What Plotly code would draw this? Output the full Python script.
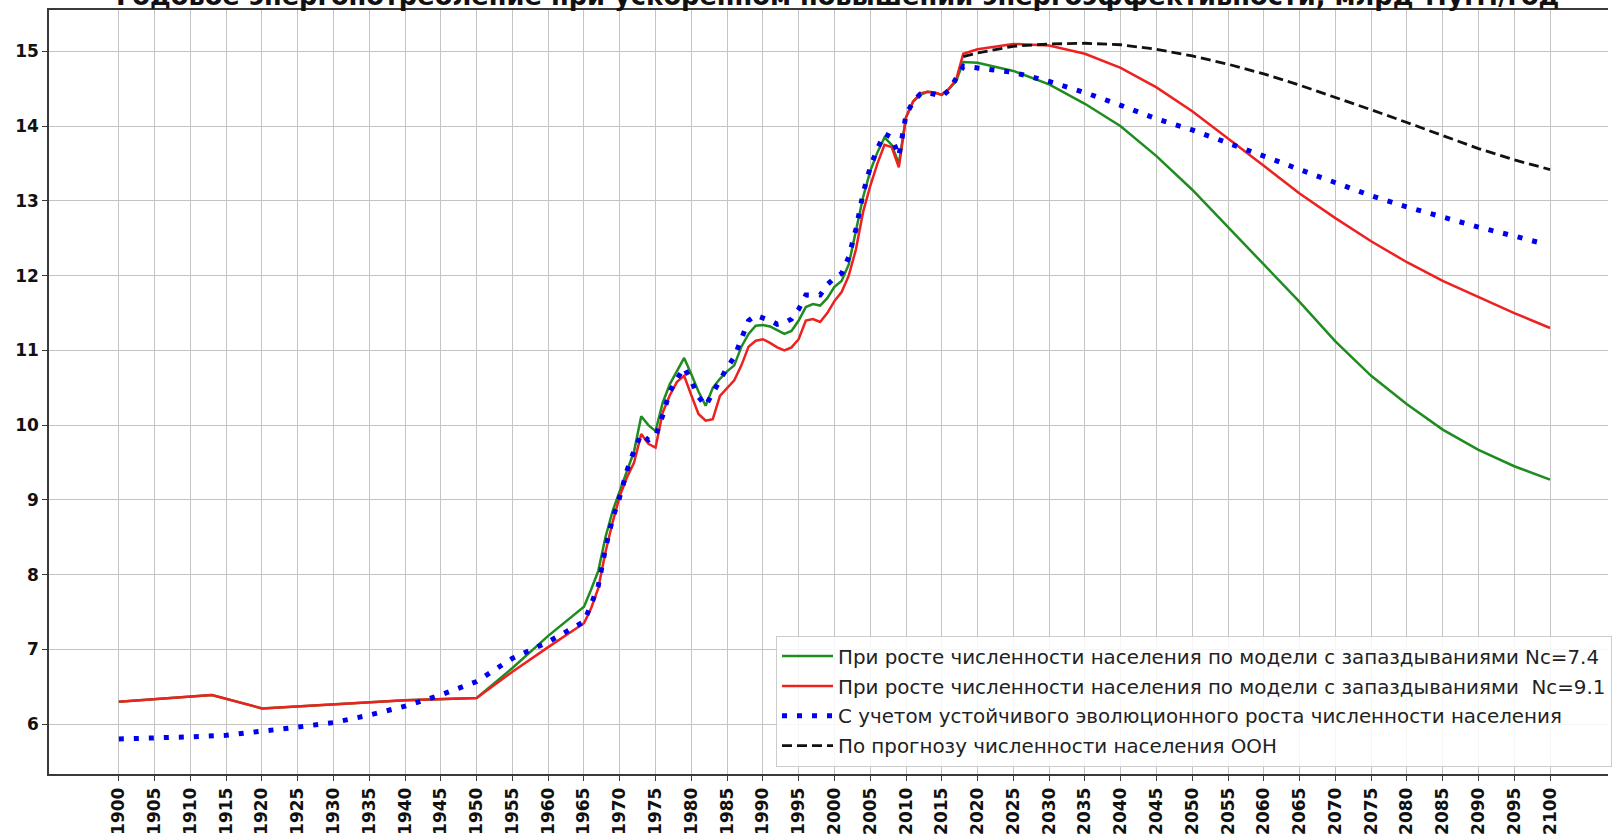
import plotly.graph_objects as go

# ---------------- data ----------------
title_text = "Годовое энергопотребление при ускоренном повышении энергоэффективности, млрд т.у.т./год"

name_green = "При росте численности населения по модели с запаздываниями Nc=7.4"
name_red = "При росте численности населения по модели с запаздываниями  Nc=9.1"
name_blue = "С учетом устойчивого эволюционного роста численности населения"
name_black = "По прогнозу численности населения ООН"

years_model = [1900, 1913, 1920, 1930, 1940, 1950, 1955, 1960, 1965, 1966, 1967, 1968, 1969,
               1970, 1971, 1972, 1973, 1974, 1975, 1976, 1977, 1978, 1979, 1980, 1981, 1982,
               1983, 1984, 1985, 1986, 1987, 1988, 1989, 1990, 1991, 1992, 1993, 1994, 1995,
               1996, 1997, 1998, 1999, 2000, 2001, 2002, 2003, 2004, 2005, 2006, 2007, 2008,
               2009, 2010, 2011, 2012, 2013, 2014, 2015, 2016, 2017, 2018, 2020, 2025, 2030,
               2035, 2040, 2045, 2050, 2055, 2060, 2065, 2070, 2075, 2080, 2085, 2090, 2095, 2100]

green_vals = [6.30, 6.39, 6.21, 6.27, 6.32, 6.35, 6.75, 7.18, 7.57, 7.80, 8.05, 8.50, 8.85,
              9.12, 9.40, 9.65, 10.12, 10.00, 9.92, 10.30, 10.55, 10.72, 10.90, 10.68, 10.45, 10.26,
              10.50, 10.62, 10.72, 10.80, 11.05, 11.22, 11.33, 11.34, 11.32, 11.27, 11.22, 11.26, 11.40,
              11.58, 11.62, 11.60, 11.70, 11.85, 11.93, 12.15, 12.60, 13.05, 13.40, 13.65, 13.85, 13.75,
              13.50, 14.12, 14.33, 14.42, 14.46, 14.45, 14.42, 14.50, 14.60, 14.86, 14.85, 14.74, 14.56,
              14.30, 14.00, 13.60, 13.15, 12.65, 12.15, 11.65, 11.12, 10.66, 10.28, 9.94, 9.67, 9.45, 9.27]

red_vals = [6.30, 6.39, 6.21, 6.27, 6.32, 6.35, 6.70, 7.03, 7.35, 7.55, 7.82, 8.30, 8.70,
            9.05, 9.30, 9.50, 9.88, 9.75, 9.70, 10.17, 10.40, 10.58, 10.66, 10.40, 10.15, 10.06,
            10.08, 10.39, 10.50, 10.60, 10.80, 11.05, 11.13, 11.15, 11.10, 11.04, 11.00, 11.04, 11.15,
            11.40, 11.42, 11.38, 11.50, 11.66, 11.78, 12.00, 12.35, 12.85, 13.20, 13.50, 13.75, 13.72,
            13.45, 14.12, 14.33, 14.44, 14.46, 14.45, 14.42, 14.50, 14.62, 14.97, 15.03, 15.10, 15.08,
            14.97, 14.78, 14.52, 14.20, 13.84, 13.47, 13.10, 12.77, 12.46, 12.18, 11.93, 11.71, 11.50, 11.30]

years_blue = [1900, 1905, 1910, 1915, 1920, 1925, 1930, 1935, 1940, 1945, 1950, 1955, 1960, 1965,
              1966, 1967, 1968, 1969, 1970, 1971, 1972, 1973, 1974, 1975, 1976, 1977, 1978, 1979,
              1980, 1981, 1982, 1983, 1984, 1985, 1986, 1987, 1988, 1989, 1990, 1991, 1992, 1993,
              1994, 1995, 1996, 1997, 1998, 1999, 2000, 2001, 2002, 2003, 2004, 2005, 2006, 2007,
              2008, 2009, 2010, 2011, 2012, 2013, 2014, 2015, 2016, 2017, 2018, 2020, 2025, 2030,
              2035, 2040, 2045, 2050, 2055, 2060, 2065, 2070, 2075, 2080, 2085, 2090, 2095, 2099]

blue_vals = [5.80, 5.81, 5.83, 5.85, 5.90, 5.96, 6.02, 6.12, 6.24, 6.39, 6.57, 6.88, 7.10, 7.37,
             7.60, 7.85, 8.35, 8.75, 9.04, 9.39, 9.66, 9.88, 9.80, 9.85, 10.13, 10.45, 10.62, 10.77,
             10.59, 10.38, 10.26, 10.44, 10.62, 10.77, 10.91, 11.15, 11.40, 11.47, 11.44, 11.40, 11.35, 11.37,
             11.42, 11.55, 11.74, 11.74, 11.74, 11.88, 11.97, 12.03, 12.25, 12.62, 13.10, 13.45, 13.70, 13.90,
             13.85, 13.60, 14.15, 14.33, 14.43, 14.45, 14.42, 14.40, 14.48, 14.65, 14.80, 14.78, 14.72, 14.60,
             14.45, 14.28, 14.10, 13.95, 13.78, 13.60, 13.42, 13.24, 13.07, 12.92, 12.78, 12.65, 12.53, 12.43]

years_un = [2018, 2020, 2025, 2030, 2035, 2040, 2045, 2050, 2055, 2060, 2065, 2070, 2075, 2080,
            2085, 2090, 2095, 2100]
un_vals = [14.93, 14.98, 15.07, 15.10, 15.11, 15.09, 15.03, 14.94, 14.83, 14.70, 14.55, 14.39, 14.22,
           14.05, 13.87, 13.70, 13.55, 13.42]

x_ticks = [1900, 1905, 1910, 1915, 1920, 1925, 1930, 1935, 1940, 1945, 1950, 1955, 1960, 1965, 1970,
           1975, 1980, 1985, 1990, 1995, 2000, 2005, 2010, 2015, 2020, 2025, 2030, 2035, 2040, 2045,
           2050, 2055, 2060, 2065, 2070, 2075, 2080, 2085, 2090, 2095, 2100]
y_ticks = [6, 7, 8, 9, 10, 11, 12, 13, 14, 15]

# ---------------- figure ----------------
fig = go.Figure()
fig.add_trace(go.Scatter(x=years_model, y=green_vals, mode="lines", name=name_green,
                         line=dict(color="#1f8c1f", width=2.5), legendgroup="g1"))
fig.add_trace(go.Scatter(x=years_model, y=red_vals, mode="lines", name=name_red,
                         line=dict(color="#ee2020", width=2.5), legendgroup="g2"))
fig.add_trace(go.Scatter(x=years_blue, y=blue_vals, mode="lines", name=name_blue,
                         line=dict(color="#0000ee", width=5, dash="5px,10px"), legendgroup="g3"))
fig.add_trace(go.Scatter(x=years_un, y=un_vals, mode="lines", name=name_black,
                         line=dict(color="#111111", width=2.8, dash="10px,5px"), legendgroup="g4"))

# title (the reference shows it partly cut off at the top edge)
fig.add_annotation(text="<b>" + title_text + "</b>", xref="paper", yref="paper",
                   x=0.506, y=1.0177, xanchor="center", yanchor="middle", showarrow=False,
                   font=dict(family="DejaVu Sans", size=25.7, color="#111111"))

tickfont = dict(family="DejaVu Sans", size=17, color="#111111", weight="bold")
fig.update_layout(
    width=1612, height=840, autosize=False,
    margin=dict(l=49, r=0, t=10, b=66),
    paper_bgcolor="white", plot_bgcolor="white",
    showlegend=True,
    legend=dict(x=0.4664, y=0.181, xanchor="left", yanchor="top",
                font=dict(family="DejaVu Sans", size=19.85, color="#222222"),
                bgcolor="rgba(255,255,255,0.85)", bordercolor="#cccccc", borderwidth=1,
                tracegroupgap=1, itemwidth=51),
)
fig.update_xaxes(range=[1890.24, 2108.1], tickmode="array", tickvals=x_ticks,
                 ticktext=[str(v) for v in x_ticks], tickangle=-90, tickfont=tickfont,
                 showgrid=True, gridcolor="#c4c4c4", gridwidth=1.2, zeroline=False,
                 showline=True, mirror=True, linecolor="#3a3a3a", linewidth=1.6,
                 ticks="outside", ticklen=5, tickcolor="#3a3a3a")
fig.update_yaxes(range=[5.332, 15.555], tickmode="array", tickvals=y_ticks,
                 ticktext=[str(v) for v in y_ticks], tickfont=tickfont,
                 showgrid=True, gridcolor="#c4c4c4", gridwidth=1.2, zeroline=False,
                 showline=True, mirror=False, linecolor="#3a3a3a", linewidth=1.6,
                 ticks="outside", ticklen=5, tickcolor="#3a3a3a")

fig.write_html("out.html", config={"displayModeBar": False},
               post_script="document.body.style.margin='0';document.body.style.overflow='hidden';")
